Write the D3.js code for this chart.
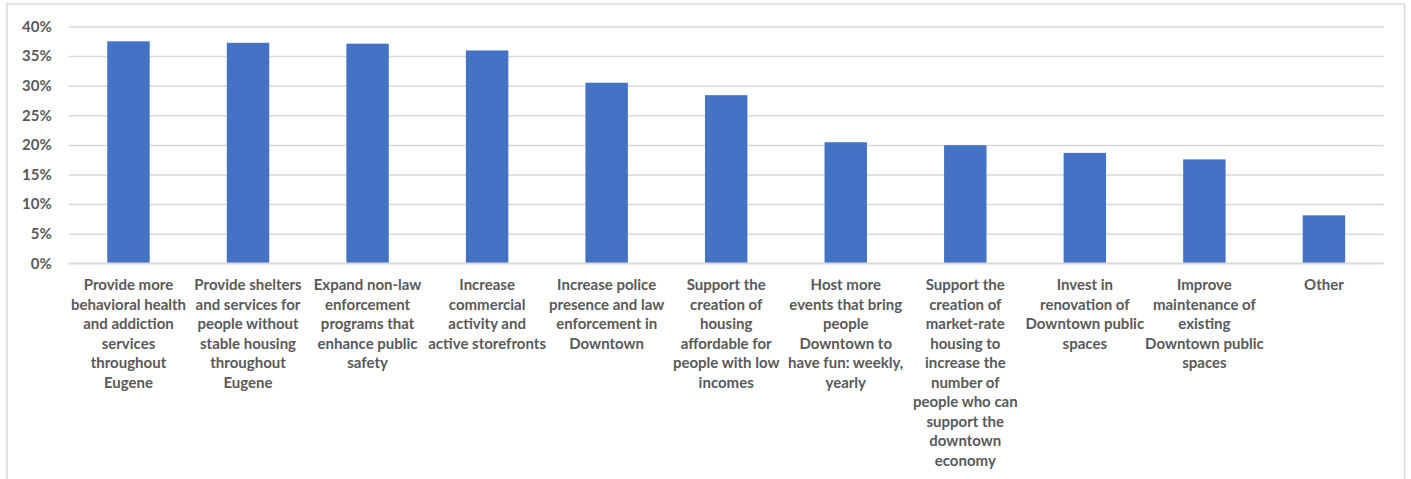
<!DOCTYPE html>
<html>
<head>
<meta charset="utf-8">
<script src="https://cdn.jsdelivr.net/npm/d3@7"></script>
<style>
  html, body { margin: 0; padding: 0; background: #fff; }
  svg { display: block; }
  text { font-family: Lato, "Open Sans", sans-serif; }
</style>
</head>
<body>
<svg id="chart" width="1411" height="479"></svg>
<script>
// ---- data ----
const categories = [
  "Provide more\nbehavioral health\nand addiction\nservices\nthroughout\nEugene",
  "Provide shelters\nand services for\npeople without\nstable housing\nthroughout\nEugene",
  "Expand non-law\nenforcement\nprograms that\nenhance public\nsafety",
  "Increase\ncommercial\nactivity and\nactive storefronts",
  "Increase police\npresence and law\nenforcement in\nDowntown",
  "Support the\ncreation of\nhousing\naffordable for\npeople with low\nincomes",
  "Host more\nevents that bring\npeople\nDowntown to\nhave fun: weekly,\nyearly",
  "Support the\ncreation of\nmarket-rate\nhousing to\nincrease the\nnumber of\npeople who can\nsupport the\ndowntown\neconomy",
  "Invest in\nrenovation of\nDowntown public\nspaces",
  "Improve\nmaintenance of\nexisting\nDowntown public\nspaces",
  "Other"
];
const values = [0.375, 0.3725, 0.371, 0.3595, 0.305, 0.284, 0.2045, 0.1995, 0.1865, 0.1755, 0.081];
const yTicks = [0, 0.05, 0.10, 0.15, 0.20, 0.25, 0.30, 0.35, 0.40];

// ---- layout ----
const svg = d3.select("#chart");
const mLeft = 68.7, mRight = 1383.7, mTop = 26.5, mBottom = 263.3;

// chart border
svg.append("rect")
  .attr("x", 7).attr("y", 4)
  .attr("width", 1397.5).attr("height", 500)
  .attr("fill", "none").attr("stroke", "#d9d9d9").attr("stroke-width", 1.5);

const x = d3.scaleBand().domain(d3.range(categories.length))
  .range([mLeft, mRight]).paddingInner(0.645).paddingOuter(0.3225);
const y = d3.scaleLinear().domain([0, 0.40]).range([mBottom, mTop]);

// gridlines
const yAxis = d3.axisLeft(y).tickValues(yTicks)
  .tickFormat(d3.format(".0%")).tickSize(-(mRight - mLeft)).tickPadding(17);
const gy = svg.append("g").attr("transform", `translate(${mLeft},0)`).call(yAxis);
gy.select(".domain").remove();
gy.selectAll(".tick line").attr("stroke", "#d9d9d9").attr("stroke-width", 1.5);
gy.selectAll(".tick text")
  .attr("font-family", "Lato, 'Open Sans', sans-serif")
  .attr("font-size", 15).attr("font-weight", 700).attr("fill", "#595959");

// bars
svg.append("g").selectAll("rect").data(values).join("rect")
  .attr("x", (d, i) => x(i))
  .attr("width", x.bandwidth())
  .attr("y", d => y(d))
  .attr("height", d => y(0) - y(d))
  .attr("fill", "#4472c4");

// x axis baseline
svg.append("line").attr("x1", mLeft).attr("x2", mRight)
  .attr("y1", mBottom).attr("y2", mBottom)
  .attr("stroke", "#d9d9d9").attr("stroke-width", 1.5);

// category labels
const lab = svg.append("g").selectAll("text").data(categories).join("text")
  .attr("text-anchor", "middle")
  .attr("font-size", 15).attr("font-weight", 700).attr("fill", "#595959")
  .attr("transform", (d, i) => `translate(${x(i) + x.bandwidth() / 2},290)`);
lab.each(function(d) {
  const t = d3.select(this);
  d.split("\n").forEach((line, k) => {
    t.append("tspan").attr("x", 0).attr("y", k * 19.5).text(line);
  });
});
</script>
</body>
</html>
